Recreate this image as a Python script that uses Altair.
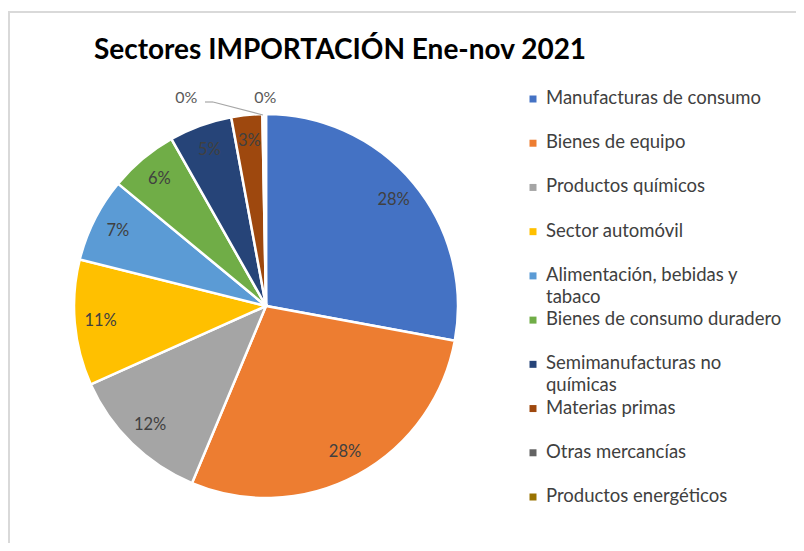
import altair as alt
import pandas as pd

categories = [
    "Manufacturas de consumo",
    "Bienes de equipo",
    "Productos químicos",
    "Sector automóvil",
    "Alimentación, bebidas y tabaco",
    "Bienes de consumo duradero",
    "Semimanufacturas no químicas",
    "Materias primas",
    "Otras mercancías",
    "Productos energéticos",
]
values = [27.9, 28.4, 12.0, 10.6, 7.1, 5.8, 5.3, 2.6, 0.2, 0.1]
legend_labels = [
    "Manufacturas de consumo",
    "Bienes de equipo",
    "Productos químicos",
    "Sector automóvil",
    "Alimentación, bebidas y\ntabaco",
    "Bienes de consumo duradero",
    "Semimanufacturas no\nquímicas",
    "Materias primas",
    "Otras mercancías",
    "Productos energéticos",
]
colors = ["#4472C4", "#ED7D31", "#A5A5A5", "#FFC000", "#5B9BD5",
          "#70AD47", "#264478", "#9E480E", "#636363", "#997300"]

df = pd.DataFrame({
    "cat": categories,
    "value": values,
    "idx": list(range(len(categories))),
    "legend": legend_labels,
})
df["pct"] = [f"{round(v)}%" for v in values]

FONT = "Lato"
CX, CY, R = 258, 298, 192

color = alt.Color("cat:N", scale=alt.Scale(domain=categories, range=colors), legend=None)
base = alt.Chart(df)

arcs = base.mark_arc(outerRadius=R, stroke="white", strokeWidth=2.5).encode(
    theta=alt.Theta("value:Q", stack=True),
    order=alt.Order("idx:Q"),
    color=color,
    x=alt.value(CX), y=alt.value(CY),
)

inside = base.transform_calculate(
    txt="datum.value >= 1 ? datum.pct : ''"
).mark_text(font=FONT, fontSize=16.5, color="#404040").encode(
    theta=alt.Theta("value:Q", stack=True),
    order=alt.Order("idx:Q"),
    radius=alt.value(166),
    text="txt:N",
    x=alt.value(CX), y=alt.value(CY),
)

out_otras = base.transform_calculate(
    txt="datum.cat == 'Otras mercancías' ? datum.pct : ''"
).mark_text(font=FONT, fontSize=16, color="#595959", dx=-77).encode(
    theta=alt.Theta("value:Q", stack=True),
    order=alt.Order("idx:Q"),
    radius=alt.value(208),
    text="txt:N",
    x=alt.value(CX), y=alt.value(CY),
)

out_energ = base.transform_calculate(
    txt="datum.cat == 'Productos energéticos' ? datum.pct : ''"
).mark_text(font=FONT, fontSize=16, color="#595959").encode(
    theta=alt.Theta("value:Q", stack=True),
    order=alt.Order("idx:Q"),
    radius=alt.value(208),
    text="txt:N",
    x=alt.value(CX), y=alt.value(CY),
)

lead1 = alt.Chart(pd.DataFrame({"a": [0]})).mark_rule(color="#A6A6A6", strokeWidth=1.2).encode(
    x=alt.value(197), x2=alt.value(205), y=alt.value(94), y2=alt.value(94))
lead2 = alt.Chart(pd.DataFrame({"a": [0]})).mark_rule(color="#A6A6A6", strokeWidth=1.2).encode(
    x=alt.value(205), x2=alt.value(255), y=alt.value(94), y2=alt.value(107))

ypos = alt.Y("cat:N", scale=alt.Scale(domain=categories, range=[91, 489], padding=0), axis=None)

leg_sym = base.mark_point(shape="square", filled=True, size=49, opacity=1).encode(
    x=alt.value(525), y=ypos, color=color)

leg_txt = base.mark_text(font=FONT, fontSize=18.5, color="#404040", align="left",
                         baseline="top", dy=-10, lineHeight=22, lineBreak="\n").encode(
    x=alt.value(538), y=ypos, text=alt.Text("legend:N"))

title = alt.Chart(pd.DataFrame({"t": ["Sectores IMPORTACIÓN Ene-nov 2021"]})).mark_text(
    font=FONT, fontSize=28, fontWeight="bold", color="#000000").encode(
    x=alt.value(332), y=alt.value(43), text="t:N")

border_h = alt.Chart(pd.DataFrame({"a": [0]})).mark_rule(color="#D9D9D9", strokeWidth=2).encode(
    x=alt.value(0), x2=alt.value(788), y=alt.value(4), y2=alt.value(4))
border_v = alt.Chart(pd.DataFrame({"a": [0]})).mark_rule(color="#D9D9D9", strokeWidth=2).encode(
    x=alt.value(1), x2=alt.value(1), y=alt.value(4), y2=alt.value(535))

chart = alt.layer(
    border_h, border_v, arcs, inside, out_otras, out_energ, lead1, lead2,
    leg_sym, leg_txt, title
).properties(
    width=788, height=535, padding=0,
    autosize=alt.AutoSizeParams(type="none"),
).configure_view(stroke=None)

chart.save("out.html", embed_options={"renderer": "svg", "actions": False})
